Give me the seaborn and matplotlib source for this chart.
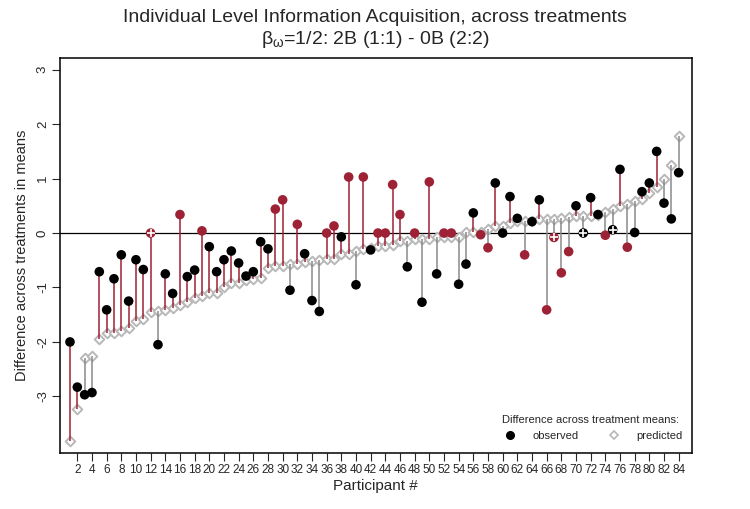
import numpy as np
import pandas as pd
import matplotlib
matplotlib.use("Agg")
import matplotlib.pyplot as plt
import seaborn as sns
from matplotlib.lines import Line2D

# Data
participants = list(range(1, 85))
observed = [
    -2.00, -2.83, -2.97, -2.93, -0.71, -1.41, -0.84, -0.40, -1.25, -0.49,
    -0.67, 0.00, -2.05, -0.75, -1.11, 0.34, -0.80, -0.68, 0.04, -0.25,
    -0.71, -0.49, -0.33, -0.55, -0.79, -0.71, -0.16, -0.29, 0.44, 0.61,
    -1.05, 0.16, -0.38, -1.24, -1.44, 0.00, 0.13, -0.07, 1.03, -0.95,
    1.03, -0.31, 0.00, 0.00, 0.89, 0.34, -0.62, 0.00, -1.27, 0.94,
    -0.75, 0.00, 0.00, -0.94, -0.57, 0.37, -0.03, -0.27, 0.92, 0.00,
    0.67, 0.27, -0.40, 0.21, 0.61, -1.41, -0.08, -0.73, -0.34, 0.50,
    0.00, 0.65, 0.34, -0.04, 0.06, 1.17, -0.26, 0.01, 0.76, 0.92,
    1.50, 0.55, 0.26, 1.11,
]
predicted = [
    -3.82, -3.24, -2.30, -2.26, -1.94, -1.83, -1.83, -1.79, -1.74, -1.62,
    -1.58, -1.45, -1.44, -1.41, -1.37, -1.33, -1.26, -1.20, -1.15, -1.11,
    -1.11, -1.00, -0.92, -0.92, -0.87, -0.85, -0.82, -0.64, -0.60, -0.60,
    -0.56, -0.56, -0.53, -0.51, -0.50, -0.48, -0.48, -0.38, -0.38, -0.33,
    -0.30, -0.28, -0.24, -0.24, -0.22, -0.15, -0.15, -0.11, -0.11, -0.11,
    -0.07, -0.07, -0.07, -0.07, 0.02, 0.02, 0.02, 0.07, 0.13, 0.13,
    0.18, 0.22, 0.22, 0.22, 0.26, 0.26, 0.26, 0.28, 0.29, 0.32,
    0.32, 0.32, 0.34, 0.38, 0.45, 0.50, 0.53, 0.59, 0.62, 0.74,
    0.84, 1.00, 1.25, 1.79,
]
red_participants = [12, 16, 19, 29, 30, 32, 36, 37, 39, 41, 43, 44, 45, 46,
                    48, 50, 52, 53, 57, 58, 63, 66, 67, 68, 69, 74, 77]
crossed_participants = [12, 67, 71, 75]

RED = "#9e2236"
LINE_GREY = "#8a8a8a"
DIAMOND_GREY = "#b8b8b8"

df = pd.DataFrame({"participant": participants,
                   "observed": observed,
                   "predicted": predicted})
df["dot"] = np.where(df["participant"].isin(red_participants), "red", "black")
up = df["observed"] >= df["predicted"]

sns.set_style("white")
plt.rcParams["font.family"] = ["Liberation Sans", "DejaVu Sans"]
plt.rcParams["mathtext.fontset"] = "custom"
plt.rcParams["mathtext.rm"] = "Liberation Sans"

fig = plt.figure(figsize=(7.5, 5.09), dpi=100)
ax = fig.add_axes([60 / 750, 56 / 509, 631.7 / 750, 394.7 / 509])

ax.axhline(0, color="black", lw=0.9, zorder=1)

# predicted: hollow grey diamonds
sns.scatterplot(data=df, x="participant", y="predicted", marker="D", s=24,
                color="white", edgecolor=DIAMOND_GREY, linewidth=1.4,
                ax=ax, zorder=2, legend=False)

# spikes from predicted to observed
ax.vlines(df.loc[up, "participant"], df.loc[up, "predicted"], df.loc[up, "observed"],
          color=RED, lw=1.1, zorder=3)
ax.vlines(df.loc[~up, "participant"], df.loc[~up, "predicted"], df.loc[~up, "observed"],
          color=LINE_GREY, lw=1.1, zorder=3)

# observed dots
sns.scatterplot(data=df, x="participant", y="observed", hue="dot",
                palette={"black": "black", "red": RED}, s=48, edgecolor="none",
                ax=ax, zorder=4, legend=False)
cross = df[df["participant"].isin(crossed_participants)]
ax.scatter(cross["participant"], cross["observed"], marker="+", color="white",
           s=30, lw=1.2, zorder=5)

ax.set_xlim(-0.36, 85.78)
ax.set_ylim(-4.04, 3.21)
ax.set_xticks(range(2, 85, 2))
ax.set_yticks(range(-3, 4))
ax.set_yticklabels([str(v) for v in range(-3, 4)], rotation=90, va="center")
ax.tick_params(direction="out", length=6, width=0.8, labelsize=8.5,
               left=True, bottom=True, pad=2)
ax.tick_params(axis="y", labelsize=9.5)
for sp in ax.spines.values():
    sp.set_visible(True)
    sp.set_color("black")
    sp.set_linewidth(1.1)

ax.set_xlabel("Participant #", fontsize=11, labelpad=2)
ax.set_ylabel("Difference across treatments in means", fontsize=10.5, labelpad=6)

fig.text(0.5, 1 - 18 / 509, "Individual Level Information Acquisition, across treatments",
         ha="center", va="center", fontsize=14)
fig.text(0.5, 1 - 39 / 509, r"$\mathregular{\beta_{\omega}}$=1/2: 2B (1:1) - 0B (2:2)",
         ha="center", va="center", fontsize=14)

handles = [
    Line2D([], [], marker="o", ls="", color="black", markersize=5.5, label="observed"),
    Line2D([], [], marker="D", ls="", markerfacecolor="white",
           markeredgecolor=DIAMOND_GREY, markeredgewidth=1.2, markersize=4.5,
           label="predicted"),
]
ax.legend(handles=handles, title="Difference across treatment means:", ncol=2,
          frameon=False, loc="lower center", bbox_to_anchor=(0.84, 0.005),
          fontsize=8, title_fontsize=8, columnspacing=2.2, handletextpad=1.0)

fig.savefig("out.png", dpi=100)
